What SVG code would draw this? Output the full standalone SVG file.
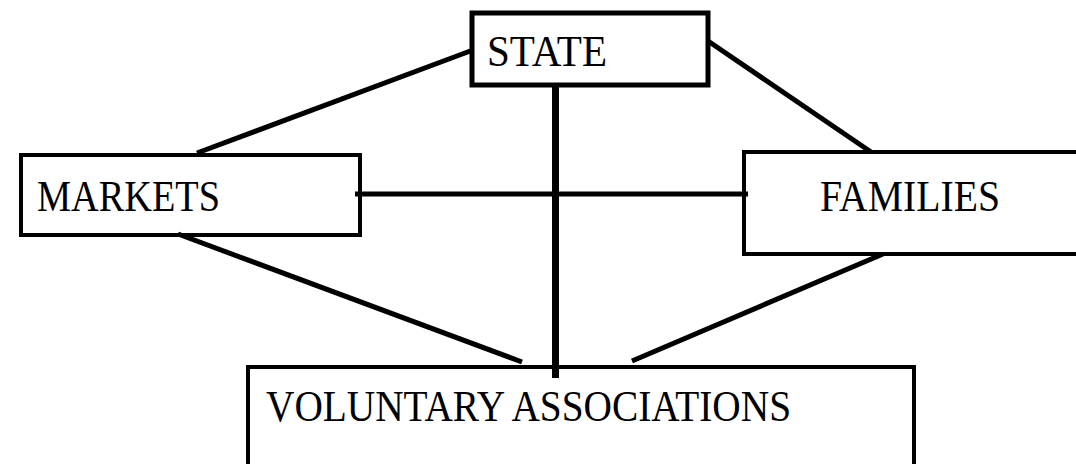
<svg xmlns="http://www.w3.org/2000/svg" width="1076" height="464" viewBox="0 0 1076 464">
<style>
.box{fill:none;stroke:#000;stroke-width:4}
.lbl{font-family:"Liberation Serif","Times New Roman",serif;font-size:44px;fill:#000}
.ln{stroke:#000;stroke-width:5;fill:none}
</style>
<rect width="1076" height="464" fill="#fff"/>
<g id="connectors">
<line class="ln" x1="197" y1="153" x2="473" y2="50"/>
<line class="ln" x1="708" y1="41" x2="871" y2="152"/>
<line class="ln" x1="555.5" y1="86" x2="555.5" y2="378" style="stroke-width:7"/>
<line class="ln" x1="355" y1="194" x2="748" y2="194"/>
<line class="ln" x1="178" y1="234" x2="522" y2="362"/>
<line class="ln" x1="883" y1="254" x2="632" y2="361"/>
</g>
<g id="state">
<rect class="box" x="472" y="13" width="236" height="72" style="stroke-width:5"/>
<text class="lbl" x="487" y="66" textLength="120" lengthAdjust="spacingAndGlyphs">STATE</text>
</g>
<g id="markets">
<rect class="box" x="21" y="155" width="339" height="80"/>
<text class="lbl" x="37" y="211" textLength="183" lengthAdjust="spacingAndGlyphs">MARKETS</text>
</g>
<g id="families">
<rect class="box" x="744" y="152" width="340" height="102"/>
<text class="lbl" x="820" y="211" textLength="180" lengthAdjust="spacingAndGlyphs">FAMILIES</text>
</g>
<g id="voluntary">
<rect class="box" x="248" y="367" width="666" height="110"/>
<text class="lbl" x="266" y="421" textLength="525" lengthAdjust="spacingAndGlyphs">VOLUNTARY ASSOCIATIONS</text>
</g>
</svg>
